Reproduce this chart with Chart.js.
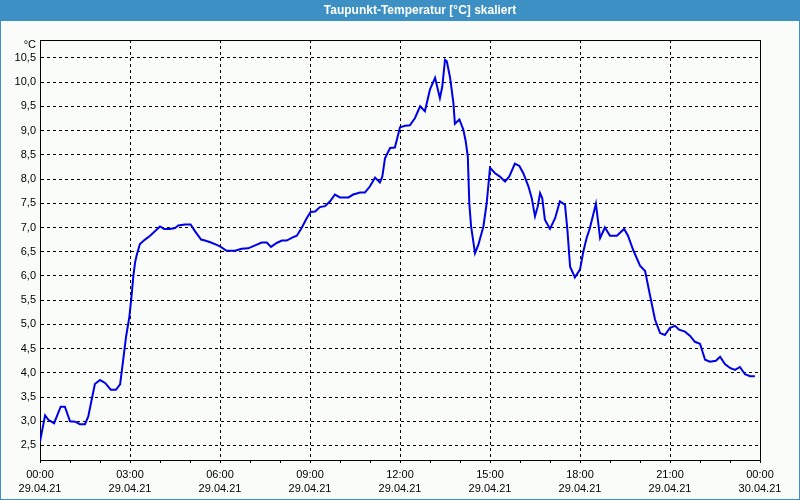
<!DOCTYPE html>
<html>
<head>
<meta charset="utf-8">
<script src="https://cdn.jsdelivr.net/npm/chart.js@4/dist/chart.umd.min.js"></script>
<style>
  html, body { margin: 0; padding: 0; background: #fafcfa; }
  #wrap { position: relative; width: 800px; height: 500px; }
  canvas { display: block; }
</style>
</head>
<body>
<div id="wrap"><canvas id="c" width="800" height="500"></canvas></div>
<script>
// ---- data (hours since 29.04.21 00:00, dew point °C) ----
const chartTitle = 'Taupunkt-Temperatur [°C] skaliert';
const unitLabel = '°C';
const times = [
  0, 0.17, 0.28, 0.47, 0.69, 0.83, 1.0, 1.17, 1.33, 1.5, 1.61, 1.72, 1.83, 2.0, 2.17, 2.36, 2.53, 2.67, 2.76, 2.87, 2.98,
  3.06, 3.11, 3.17, 3.22, 3.33, 3.5, 3.67, 3.83, 4.0, 4.14, 4.33, 4.5, 4.61, 4.83, 5.02, 5.17, 5.37, 5.5, 5.7, 5.89,
  6.0, 6.22, 6.5, 6.72, 6.94, 7.17, 7.39, 7.56, 7.7, 7.89, 8.06, 8.22, 8.44, 8.56, 8.72, 8.89,
  9.02, 9.17, 9.33, 9.5, 9.67, 9.83, 10.0, 10.28, 10.44, 10.67, 10.83, 11.0, 11.17, 11.33, 11.41, 11.5, 11.67, 11.83,
  12.0, 12.17, 12.33, 12.5, 12.67, 12.83, 13.0, 13.17, 13.33, 13.41, 13.5, 13.56, 13.67, 13.78, 13.83, 13.98, 14.11, 14.19, 14.26, 14.31, 14.37, 14.5, 14.61, 14.78, 14.89,
  15.0, 15.17, 15.33, 15.5, 15.64, 15.83, 15.98, 16.11, 16.28, 16.39, 16.5, 16.59, 16.67, 16.74, 16.83, 17.0, 17.17, 17.33, 17.5, 17.58, 17.67, 17.83,
  18.0, 18.11, 18.22, 18.33, 18.53, 18.67, 18.83, 19.0, 19.23, 19.47, 19.6, 19.77, 20.0, 20.17, 20.33, 20.5, 20.67, 20.83,
  21.0, 21.17, 21.3, 21.5, 21.67, 21.83, 22.0, 22.17, 22.33, 22.53, 22.67, 22.83, 23.0, 23.17, 23.33, 23.5, 23.67, 23.83
];
const dewPoint = [
  2.58, 3.12, 3.03, 2.96, 3.30, 3.30, 3.00, 2.99, 2.94, 2.94, 3.10, 3.44, 3.77, 3.85, 3.79, 3.65, 3.65, 3.76, 4.20, 4.75, 5.16,
  5.64, 5.99, 6.28, 6.42, 6.66, 6.75, 6.83, 6.92, 7.02, 6.97, 6.97, 6.99, 7.04, 7.06, 7.06, 6.92, 6.75, 6.73, 6.69, 6.64,
  6.61, 6.52, 6.52, 6.56, 6.57, 6.63, 6.69, 6.69, 6.60, 6.68, 6.73, 6.73, 6.80, 6.83, 6.99, 7.19,
  7.32, 7.33, 7.42, 7.44, 7.54, 7.68, 7.62, 7.62, 7.68, 7.72, 7.72, 7.85, 8.03, 7.93, 8.05, 8.43, 8.64, 8.65,
  9.07, 9.10, 9.11, 9.26, 9.50, 9.40, 9.85, 10.09, 9.67, 9.91, 10.46, 10.43, 10.09, 9.57, 9.14, 9.23, 9.02, 8.78, 8.47, 7.50, 7.02, 6.47, 6.64, 7.02, 7.50,
  8.23, 8.12, 8.05, 7.95, 8.05, 8.32, 8.27, 8.12, 7.85, 7.61, 7.23, 7.43, 7.71, 7.61, 7.16, 6.97, 7.19, 7.54, 7.47, 6.95, 6.19, 5.97,
  6.13, 6.50, 6.78, 6.99, 7.49, 6.78, 7.00, 6.83, 6.83, 6.97, 6.83, 6.54, 6.21, 6.10, 5.61, 5.10, 4.82, 4.78,
  4.93, 4.97, 4.89, 4.85, 4.76, 4.64, 4.60, 4.27, 4.23, 4.25, 4.33, 4.18, 4.10, 4.06, 4.12, 3.97, 3.93, 3.93
];
const yTicks = [2.5, 3.0, 3.5, 4.0, 4.5, 5.0, 5.5, 6.0, 6.5, 7.0, 7.5, 8.0, 8.5, 9.0, 9.5, 10.0, 10.5];
const xTickHours = [0, 3, 6, 9, 12, 15, 18, 21, 24];
const xTimeLabels = ['00:00', '03:00', '06:00', '09:00', '12:00', '15:00', '18:00', '21:00', '00:00'];
const xDateLabels = ['29.04.21', '29.04.21', '29.04.21', '29.04.21', '29.04.21', '29.04.21', '29.04.21', '29.04.21', '30.04.21'];

const FONT = '"Liberation Sans", Arial, sans-serif';

const framePlugin = {
  id: 'frame',
  beforeDraw(chart) {
    const ctx = chart.ctx;
    ctx.save();
    ctx.fillStyle = '#fafcfa';
    ctx.fillRect(0, 0, 800, 500);
    ctx.fillStyle = '#3c90c4';
    ctx.fillRect(0, 0, 800, 21);
    ctx.fillStyle = '#ffffff';
    ctx.font = 'bold 12px ' + FONT;
    ctx.textAlign = 'center';
    ctx.textBaseline = 'middle';
    ctx.fillText(chartTitle, 420, 10.5);
    ctx.strokeStyle = '#3c90c4';
    ctx.lineWidth = 1;
    ctx.strokeRect(0.5, 0.5, 799, 499);
    ctx.restore();
  },
  beforeDatasetsDraw(chart) {
    const {ctx, chartArea: a} = chart;
    ctx.save();
    ctx.strokeStyle = '#000';
    ctx.lineWidth = 1;
    ctx.setLineDash([]);
    ctx.strokeRect(Math.round(a.left) + 0.5, Math.round(a.top) + 0.5, Math.round(a.right - a.left), Math.round(a.bottom - a.top));
    ctx.fillStyle = '#000';
    ctx.font = '11px ' + FONT;
    ctx.textAlign = 'right';
    ctx.textBaseline = 'middle';
    ctx.fillText(unitLabel, a.left - 4, a.top + 5);
    ctx.restore();
  }
};

new Chart(document.getElementById('c'), {
  type: 'line',
  data: {
    datasets: [{
      data: times.map((t, i) => ({x: t, y: dewPoint[i]})),
      borderColor: '#0000e6',
      borderWidth: 2,
      pointRadius: 0,
      tension: 0,
      fill: false
    }]
  },
  plugins: [framePlugin],
  options: {
    responsive: false,
    animation: false,
    devicePixelRatio: 1,
    layout: { padding: { top: 40, right: 40, left: 0, bottom: 0 } },
    plugins: { legend: { display: false }, tooltip: { enabled: false }, title: { display: false } },
    scales: {
      x: {
        type: 'linear',
        min: 0,
        max: 24,
        afterBuildTicks(scale) {
          const t = [];
          for (let h = 0; h <= 24; h++) t.push({value: h});
          scale.ticks = t;
        },
        afterFit(scale) { scale.height = 40; scale.paddingLeft = 0; scale.paddingRight = 0; },
        border: { display: true, color: '#000', width: 1, dash: [3, 3] },
        grid: {
          color: (c) => (c.tick && xTickHours.includes(c.tick.value)) ? '#000' : 'rgba(0,0,0,0)',
          tickColor: '#000',
          tickLength: 3,
          tickBorderDash: [],
          drawTicks: true
        },
        ticks: {
          autoSkip: false,
          maxRotation: 0,
          padding: 5,
          color: '#000',
          font: { family: FONT, size: 11, lineHeight: 14 / 11 },
          callback: (v) => {
            const i = xTickHours.indexOf(v);
            return i >= 0 ? [xTimeLabels[i], xDateLabels[i]] : '';
          }
        }
      },
      y: {
        type: 'linear',
        min: 2.2,
        max: 10.87,
        afterBuildTicks(scale) { scale.ticks = yTicks.map(v => ({value: v})); },
        afterFit(scale) { scale.width = 40; scale.paddingTop = 0; scale.paddingBottom = 0; },
        border: { display: true, color: '#000', width: 1, dash: [3, 3] },
        grid: { color: '#000', drawTicks: false },
        ticks: {
          padding: 4,
          color: '#000',
          font: { family: FONT, size: 11 },
          callback: (v) => v.toFixed(1).replace('.', ',')
        }
      }
    }
  }
});
</script>
</body>
</html>
